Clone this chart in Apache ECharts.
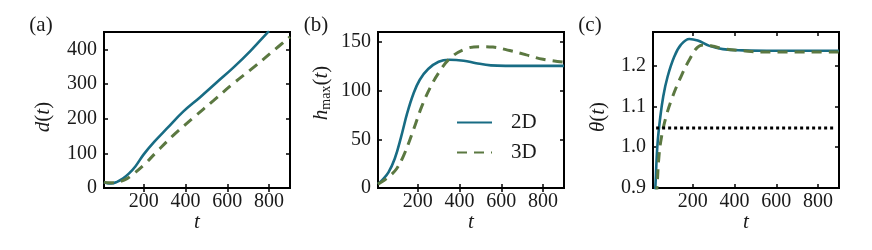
<!DOCTYPE html>
<html>
<head>
<meta charset="utf-8">
<script src="https://cdn.jsdelivr.net/npm/echarts@6/dist/echarts.min.js"></script>
<style>
html,body{margin:0;padding:0;background:#fff;}
#c{width:872px;height:250px;}
</style>
</head>
<body>
<div id="c"></div>
<script>
// ---- data ----
const xTicks = [200, 400, 600, 800];
const yTicksA = [0, 100, 200, 300, 400];
const yTicksB = [0, 50, 100, 150];
const yTicksC = [0.9, 1.0, 1.1, 1.2];

// (a) d(t)
const tA2 = [10, 25, 45, 70, 100, 130, 160, 200, 250, 310, 390, 470, 550, 630, 710, 790, 800];
const dA2 = [17, 14, 13, 17, 27, 42, 62, 97, 133, 171, 221, 262, 305, 348, 395, 447, 453];
const tA3 = [10, 30, 60, 90, 120, 150, 200, 260, 340, 440, 535, 630, 730, 825, 900];
const dA3 = [17, 15, 15, 19, 27, 40, 66, 103, 151, 204, 253, 302, 350, 398, 436];

// (b) h_max(t)
const tB2 = [10, 30, 60, 90, 120, 150, 180, 210, 250, 300, 350, 420, 480, 550, 620, 900];
const hB2 = [4, 8, 16, 30, 52, 77, 97, 111, 122, 129.5, 131.5, 130.5, 128, 125.8, 125.3, 125.3];
const tB3 = [10, 40, 70, 100, 130, 160, 190, 220, 260, 300, 350, 420, 500, 560, 640, 720, 800, 900];
const hB3 = [4, 8, 13, 20, 32, 48, 66, 84, 103, 118, 132, 142, 145, 144.5, 141, 136.5, 132, 129];

// (c) theta(t)
const tC2 = [19, 23, 27, 33, 43, 59, 80, 112, 144, 184, 224, 280, 344, 440, 600, 900];
const thC2 = [0.88, 0.92, 0.968, 1.017, 1.066, 1.124, 1.173, 1.222, 1.251, 1.265, 1.261, 1.248, 1.240, 1.237, 1.236, 1.236];
const tC3 = [25, 29, 37, 48, 72, 104, 144, 184, 224, 260, 300, 344, 440, 536, 900];
const thC3 = [0.88, 0.90, 0.968, 1.017, 1.074, 1.124, 1.173, 1.214, 1.245, 1.250, 1.247, 1.241, 1.236, 1.233, 1.233];
const tRef = [25, 885];
const thRef = [1.047, 1.047];

const seriesNames = ['2D', '3D'];

// ---- styles ----
const FONT = 'Liberation Serif';
const C2 = '#186c84';
const C3 = '#5b7841';
const TXT = '#1a1a1a';

function pairs(xs, ys) { return xs.map((x, i) => [x, ys[i]]); }

const grids = [
  {left: 104, top: 32, width: 186, height: 156},
  {left: 378, top: 32, width: 186, height: 156},
  {left: 653, top: 32, width: 186, height: 156}
].map(g => Object.assign(g, {show: true, borderColor: '#000', borderWidth: 2, backgroundColor: 'transparent'}));

const yRanges = [
  {min: 0, max: 450, ticks: yTicksA, fmt: v => String(v)},
  {min: 0, max: 160, ticks: yTicksB, fmt: v => String(v)},
  {min: 0.9, max: 1.282, ticks: yTicksC, fmt: v => Number(v).toFixed(1)}
];

const xAxes = [], yAxes = [];
for (let i = 0; i < 3; i++) {
  const tickBase = {show: true, inside: true, length: 4, lineStyle: {color: '#000', width: 1.5}, customValues: xTicks};
  xAxes.push({
    type: 'value', gridIndex: i, min: 10, max: 900, position: 'bottom',
    axisLine: {show: false}, splitLine: {show: false},
    axisTick: tickBase,
    axisLabel: {customValues: xTicks, fontFamily: FONT, fontSize: 20, color: TXT, margin: 4}
  });
  const yr = yRanges[i];
  const yTick = {show: true, inside: true, length: 4, lineStyle: {color: '#000', width: 1.5}, customValues: yr.ticks};
  yAxes.push({
    type: 'value', gridIndex: i, min: yr.min, max: yr.max, position: 'left',
    axisLine: {show: false}, splitLine: {show: false},
    axisTick: yTick,
    axisLabel: {customValues: yr.ticks, formatter: yr.fmt, fontFamily: FONT, fontSize: 20, color: TXT, margin: 7}
  });
}
// mirror axes (top / right) for inward ticks
for (let i = 0; i < 3; i++) {
  xAxes.push({
    type: 'value', gridIndex: i, min: 10, max: 900, position: 'top',
    axisLine: {show: false}, splitLine: {show: false}, axisLabel: {show: false},
    axisTick: {show: true, inside: true, length: 4, lineStyle: {color: '#000', width: 1.5}, customValues: xTicks}
  });
  const yr = yRanges[i];
  yAxes.push({
    type: 'value', gridIndex: i, min: yr.min, max: yr.max, position: 'right',
    axisLine: {show: false}, splitLine: {show: false}, axisLabel: {show: false},
    axisTick: {show: true, inside: true, length: 4, lineStyle: {color: '#000', width: 1.5}, customValues: yr.ticks}
  });
}

function lineSeries(name, gi, data, color, dashed) {
  return {
    name: name, type: 'line', xAxisIndex: gi, yAxisIndex: gi,
    data: data, showSymbol: false, symbol: 'none', smooth: 0.4,
    clip: true, silent: true, animation: false,
    lineStyle: {color: color, width: dashed ? 3 : 2.6, type: dashed ? [10, 7] : 'solid'},
    itemStyle: {color: color}
  };
}

const series = [
  lineSeries(seriesNames[0], 0, pairs(tA2, dA2), C2, false),
  lineSeries(seriesNames[1], 0, pairs(tA3, dA3), C3, true),
  lineSeries(seriesNames[0], 1, pairs(tB2, hB2), C2, false),
  lineSeries(seriesNames[1], 1, pairs(tB3, hB3), C3, true),
  lineSeries(seriesNames[0], 2, pairs(tC2, thC2), C2, false),
  lineSeries(seriesNames[1], 2, pairs(tC3, thC3), C3, true),
  {
    name: 'ref', type: 'line', xAxisIndex: 2, yAxisIndex: 2,
    data: pairs(tRef, thRef), showSymbol: false, symbol: 'none', silent: true, animation: false,
    lineStyle: {color: '#000', width: 3, type: [3, 3]}
  }
];

const rich = {
  i: {fontFamily: FONT, fontSize: 21, fontStyle: 'italic', color: TXT},
  n: {fontFamily: FONT, fontSize: 21, color: TXT},
  sub: {fontFamily: FONT, fontSize: 14, color: TXT, verticalAlign: 'bottom', padding: [10, 0, 0, 0]}
};

function txt(x, y, text, rot, extra) {
  return {
    type: 'text', x: x, y: y, rotation: rot || 0, silent: true,
    style: Object.assign({text: text, rich: rich, fontFamily: FONT, fontSize: 21, fill: TXT, align: 'center', verticalAlign: 'middle'}, extra || {})
  };
}

const graphics = [
  txt(41, 25, '(a)'),
  txt(316, 25, '(b)'),
  txt(590, 25, '(c)'),
  txt(43, 117, '{i|d}{n|(}{i|t}{n|)}', Math.PI / 2),
  txt(321, 93, '{i|h}{sub|max}{n|(}{i|t}{n|)}', Math.PI / 2),
  txt(598, 117, '{i|θ}{n|(}{i|t}{n|)}', Math.PI / 2),
  txt(197, 222, '{i|t}'),
  txt(471, 222, '{i|t}'),
  txt(746, 222, '{i|t}')
];

const chart = echarts.init(document.getElementById('c'), null, {renderer: 'canvas'});
chart.setOption({
  animation: false,
  backgroundColor: '#fff',
  grid: grids,
  xAxis: xAxes,
  yAxis: yAxes,
  legend: {
    data: seriesNames, orient: 'vertical', left: 451, top: 107,
    itemWidth: 35, itemHeight: 14, itemGap: 9, selectedMode: false,
    itemStyle: {opacity: 0},
    textStyle: {fontFamily: FONT, fontSize: 21, color: TXT, padding: [0, 0, 0, 14]}
  },
  series: series,
  graphic: graphics
});
</script>
</body>
</html>
